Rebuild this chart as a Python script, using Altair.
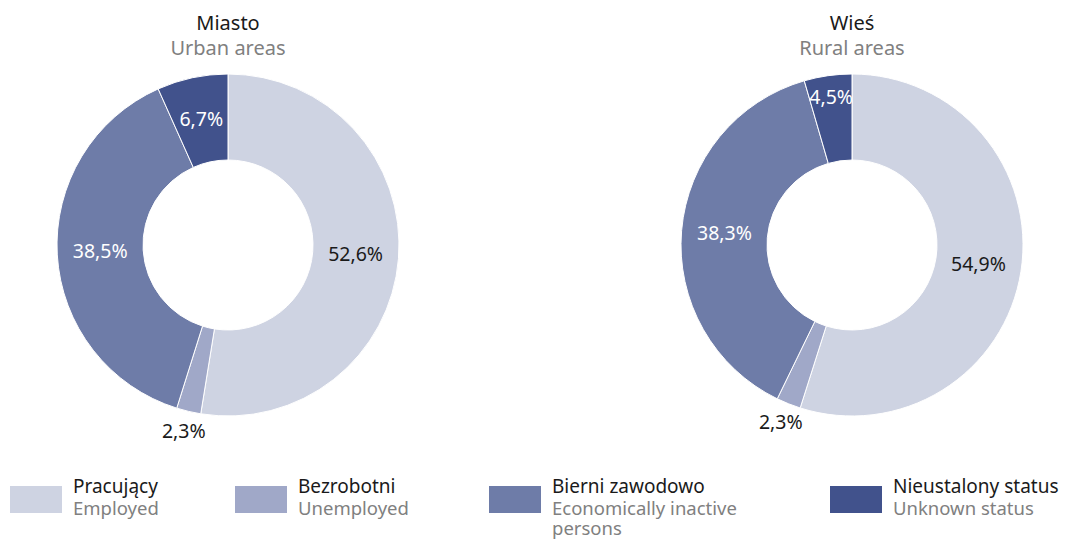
import altair as alt
import pandas as pd

# ---- data ----
categories = ["Pracujący", "Bezrobotni", "Bierni zawodowo", "Nieustalony status"]
categories_en = ["Employed", "Unemployed", "Economically inactive\npersons", "Unknown status"]
urban_values = [52.6, 2.3, 38.5, 6.7]
rural_values = [54.9, 2.3, 38.3, 4.5]
urban_labels = ["52,6%", "2,3%", "38,5%", "6,7%"]
rural_labels = ["54,9%", "2,3%", "38,3%", "4,5%"]
colors = ["#CED3E2", "#A0A8C8", "#6E7CA8", "#41528C"]
titles_pl = ["Miasto", "Wieś"]
titles_en = ["Urban areas", "Rural areas"]

FONT = "Noto Sans"
BLACK = "#1a1a1a"
GRAY = "#808080"
FS = 19

def frame(values, labels):
    return pd.DataFrame({
        "cat": categories,
        "idx": list(range(len(categories))),
        "value": values,
        "label": labels,
    })

color_scale = alt.Scale(domain=categories, range=colors)

def donut(df, cx, cy, title_pl, title_en):
    arcs = alt.Chart(df).mark_arc(radius=171, radius2=85, stroke="white", strokeWidth=1).encode(
        theta=alt.Theta("value:Q", stack=True),
        order=alt.Order("idx:Q"),
        color=alt.Color("cat:N", scale=color_scale, legend=None),
        x=alt.value(cx), y=alt.value(cy),
    )
    labels = alt.Chart(df).transform_window(
        cum="sum(value)", sort=[alt.SortField("idx")], frame=[None, 0]
    ).transform_joinaggregate(
        total="sum(value)"
    ).transform_calculate(
        mid="(datum.cum - datum.value / 2) / datum.total",
        r="datum.value < 3 ? 192 : (datum.value < 5 ? 148 : 128)",
    ).mark_text(font=FONT, fontSize=19.5, align="center", baseline="middle").encode(
        theta=alt.Theta("mid:Q", stack=None,
                        scale=alt.Scale(domain=[0, 1], range=[0, 6.283185307])),
        text="label:N",
        radius=alt.Radius("r:Q", scale=None),
        color=alt.condition("datum.idx == 0 || datum.value < 3",
                            alt.value(BLACK), alt.value("white")),
        x=alt.value(cx), y=alt.value(cy),
    )
    t1 = alt.Chart(pd.DataFrame({"t": [title_pl]})).mark_text(
        font=FONT, fontSize=20, color=BLACK, align="center", baseline="middle"
    ).encode(text="t:N", x=alt.value(cx), y=alt.value(16))
    t2 = alt.Chart(pd.DataFrame({"t": [title_en]})).mark_text(
        font=FONT, fontSize=20, color=GRAY, align="center", baseline="middle"
    ).encode(text="t:N", x=alt.value(cx), y=alt.value(41))
    return [arcs, labels, t1, t2]

left = donut(frame(urban_values, urban_labels), 220, 237, titles_pl[0], titles_en[0])
right = donut(frame(rural_values, rural_labels), 844, 237, titles_pl[1], titles_en[1])

legend_df = pd.DataFrame({"cat": categories, "en": categories_en, "idx": list(range(len(categories)))})
leg = alt.Chart(legend_df).transform_calculate(
    px="[2, 227, 481, 822][datum.idx]",
    px2="[2, 227, 481, 822][datum.idx] + 52",
    tx="[2, 227, 481, 822][datum.idx] + 63",
)
swatch = leg.mark_rect().encode(
    x=alt.X("px:Q", scale=None), x2="px2:Q",
    y=alt.value(478), y2=alt.value(505),
    color=alt.Color("cat:N", scale=color_scale, legend=None),
)
leg_pl = leg.mark_text(font=FONT, fontSize=FS, color=BLACK, align="left", baseline="middle").encode(
    x=alt.X("tx:Q", scale=None), y=alt.value(479), text="cat:N"
)
leg_en = leg.mark_text(font=FONT, fontSize=18.5, color=GRAY, align="left", baseline="top",
                       lineBreak="\n", lineHeight=20).encode(
    x=alt.X("tx:Q", scale=None), y=alt.value(492), text="en:N"
)

chart = alt.layer(*left, *right, swatch, leg_pl, leg_en).resolve_scale(
    theta="independent"
).properties(
    width=1058, height=530, padding=0
).configure_view(stroke=None)

chart.save("out.html", embed_options={"renderer": "svg", "actions": False})
